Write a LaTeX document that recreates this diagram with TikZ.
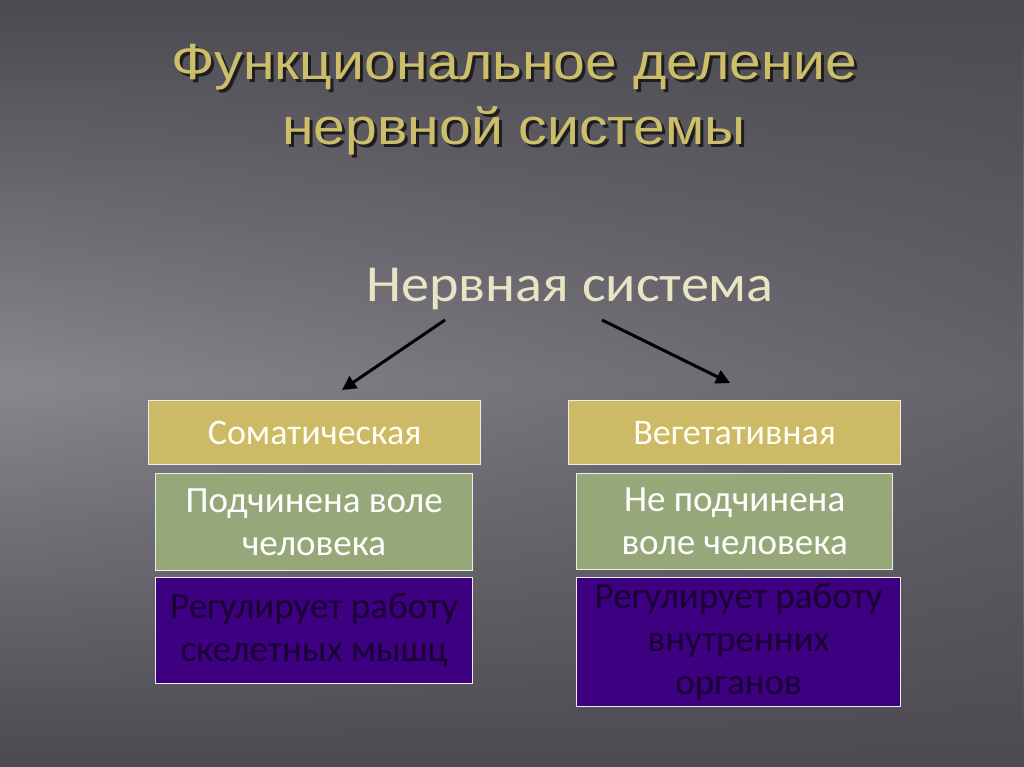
\documentclass[tikz,border=0pt]{standalone}
\usepackage{fontspec}
\setmainfont{Carlito}
\newfontfamily\titlefont[FakeStretch=1.12]{Liberation Sans}
\newfontfamily\nsfont[FakeStretch=1.08]{Carlito}
\usetikzlibrary{arrows.meta,fadings}
\definecolor{bgdark}{RGB}{66,65,70}
\definecolor{bgmid}{RGB}{96,94,101}
\definecolor{bglight}{RGB}{160,158,166}
\definecolor{titlegold}{RGB}{205,190,105}
\definecolor{titleshadow}{RGB}{30,30,32}
\definecolor{cream}{RGB}{232,228,196}
\definecolor{goldbox}{RGB}{205,186,102}
\definecolor{greenbox}{RGB}{150,168,122}
\definecolor{purplebox}{RGB}{60,0,128}
\definecolor{purpletext}{RGB}{26,0,50}
\newcommand\shadowtext[1]{\makebox[0pt][l]{\hspace{3pt}\raisebox{-3pt}{\textcolor{titleshadow}{#1}}}\textcolor{titlegold}{#1}}
\tikzset{
  x=1pt, y=-1pt,
  titletext/.style={font=\titlefont\fontsize{51}{60}\selectfont, anchor=base},
  box/.style={draw=white!85!gray, line width=1.2pt, inner sep=0pt, align=center, anchor=north west},
  headbox/.style={box, fill=goldbox, text=white!95!yellow, font=\fontsize{36}{44}\selectfont},
  greenbx/.style={box, fill=greenbox, text=white, font=\fontsize{37}{43}\selectfont},
  purplebx/.style={box, fill=purplebox, text=purpletext, font=\fontsize{37}{43}\selectfont},
  arr/.style={line width=3pt, -{Triangle[length=14pt,width=14pt]}, black}
}
\begin{document}
\begin{tikzpicture}
\useasboundingbox (0,0) rectangle (1024,767);
\fill[bgmid] (0,0) rectangle (1024,767);
\shade[shading angle=-60, top color=bgdark, bottom color=bgdark, middle color=bglight] (0,0) rectangle (1024,767);
\fill[bgmid, opacity=0.35] (0,0) rectangle (1024,767);
\fill[bgmid!80!black, path fading=west, opacity=0.6] (0,0) rectangle (1024,767);
% title
\node (title1) [titletext] at (514,80) {\shadowtext{Функциональное деление}};
\node (title2) [titletext] at (514,145) {\shadowtext{нервной системы}};
\node (ns) [text=cream, font=\nsfont\fontsize{52}{60}\selectfont, anchor=base] at (570,301) {Нервная система};
\coordinate (a1s) at (445,320);
\coordinate (a2s) at (602,320);
% left column
\node (som) [headbox, minimum width=332pt, minimum height=64pt] at (148,400) {Соматическая};
\node (sg) [greenbx, minimum width=317pt, minimum height=97pt] at (155,473) {Подчинена воле\\человека};
\node (sp) [purplebx, minimum width=317pt, minimum height=106pt] at (155,577) {Регулирует работу\\скелетных мышц};
% right column
\node (veg) [headbox, minimum width=332pt, minimum height=64pt] at (568,400) {Вегетативная};
\node (vg) [greenbx, minimum width=316pt, minimum height=96pt] at (576,473) {Не подчинена\\воле человека};
\node (vp) [purplebx, minimum width=324pt, minimum height=129pt] at (576,577) {Регулирует работу\\внутренних\\органов};
\draw[arr] (a1s) -- (342,390) coordinate (a1e);
\draw[arr] (a2s) -- (730,383) coordinate (a2e);
\end{tikzpicture}
\end{document}
